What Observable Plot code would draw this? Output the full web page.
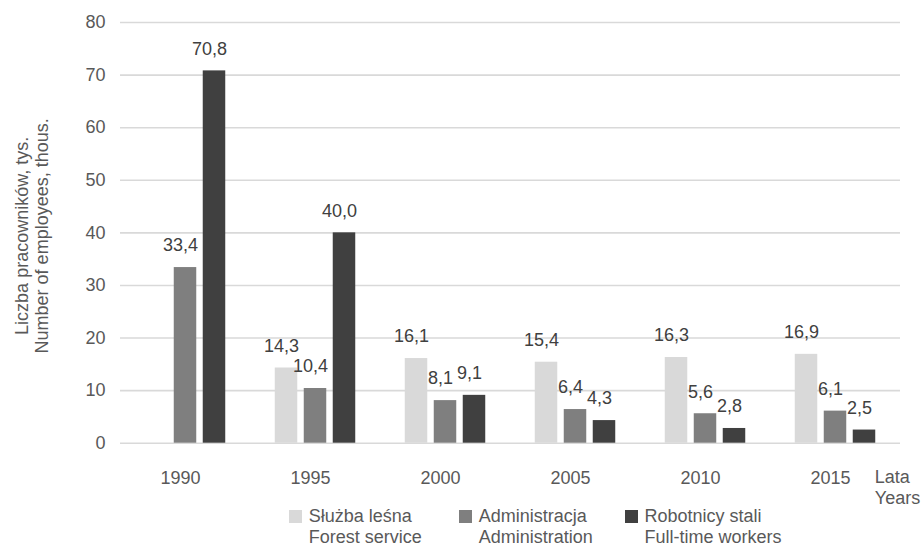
<!DOCTYPE html>
<html><head><meta charset="utf-8">
<script src="https://cdn.jsdelivr.net/npm/d3@7"></script>
<script src="https://cdn.jsdelivr.net/npm/@observablehq/plot@0.6"></script>
<style>
body{margin:0;background:#fff;font-family:"Liberation Sans",Arial,sans-serif;}
#wrap{position:relative;width:922px;height:547px;background:#fff;}
#legend{position:relative;height:41px;width:922px;color:#595959;font-size:18px;}
.item{position:absolute;top:0;}
.sw{position:absolute;left:0;width:13px;height:13px;top:4px;}
.lab{position:absolute;left:19.5px;top:0px;line-height:21px;white-space:nowrap;}
</style></head><body><div id="wrap"></div>
<script>
const years = ["1990","1995","2000","2005","2010","2015"];
const seriesPL = ["Służba leśna","Administracja","Robotnicy stali"];
const seriesEN = ["Forest service","Administration","Full-time workers"];
const colors = ["#d9d9d9","#7f7f7f","#404040"];
const forest = [null,14.3,16.1,15.4,16.3,16.9];
const admin = [33.4,10.4,8.1,6.4,5.6,6.1];
const workers = [70.8,40.0,9.1,4.3,2.8,2.5];
const yTicks = [0,10,20,30,40,50,60,70,80];
const yLabel = "Liczba pracowników, tys.\nNumber of employees, thous.";
const xLabel = "Lata\nYears";

const data = [];
[forest, admin, workers].forEach((vals, s) => vals.forEach((v, i) => {
  if (v != null) data.push({year: years[i], series: seriesPL[s], value: v});
}));
const fmt = v => d3.format(".1f")(v).replace(".", ",");
const font = "'Liberation Sans', Arial, sans-serif";

const chart = Plot.plot({
  width: 922, height: 506,
  marginTop: 22, marginBottom: 63.3, marginLeft: 119.3, marginRight: 22,
  style: {fontFamily: font, fontSize: "18px", color: "#595959", background: "#fff", overflow: "visible"},
  fx: {domain: years, padding: 0, label: null},
  x: {domain: seriesPL, paddingInner: 0.224, paddingOuter: 0.854, axis: null, round: false},
  y: {domain: [0, 80], ticks: yTicks, tickSize: 0, tickPadding: 15, label: null},
  color: {domain: seriesPL, range: colors},
  marks: [
    Plot.gridY(yTicks, {stroke: "#d9d9d9", strokeOpacity: 1, strokeWidth: 1.6}),
    Plot.axisFx({anchor: "bottom", tickSize: 0, tickPadding: 28, dx: -5, label: null, fontSize: 18}),
    Plot.barY(data, {fx: "year", x: "series", y: "value", fill: "series"}),
    Plot.text(data, {fx: "year", x: "series", y: "value", text: d => fmt(d.value),
      dy: -22, dx: -5, lineAnchor: "middle", fill: "#404040", fontSize: 18}),
    Plot.text([{year: "1990", t: yLabel}], {fx: "year", text: "t", frameAnchor: "left",
      textAnchor: "middle", rotate: -90, dx: -89.3, dy: 3, lineAnchor: "middle", lineHeight: 1.11,
      fill: "#595959", fontSize: 18}),
    Plot.text([{year: "2015", t: xLabel}], {fx: "year", text: "t", frameAnchor: "bottom-right",
      textAnchor: "start", dx: -25.7, dy: 43.6, lineAnchor: "middle", lineHeight: 1.15, fill: "#595959", fontSize: 18})
  ]
});
const wrap = document.getElementById("wrap");
wrap.appendChild(chart);

const legend = document.createElement("div");
legend.id = "legend";
const legendLeft = [289.3, 459.3, 625];
seriesPL.forEach((s, i) => {
  const it = document.createElement("div");
  it.className = "item";
  it.style.left = legendLeft[i] + "px";
  const sw = document.createElement("div");
  sw.className = "sw";
  sw.style.background = colors[i];
  const lab = document.createElement("div");
  lab.className = "lab";
  lab.innerHTML = s + "<br>" + seriesEN[i];
  it.appendChild(sw); it.appendChild(lab);
  legend.appendChild(it);
});
wrap.appendChild(legend);
</script></body></html>
